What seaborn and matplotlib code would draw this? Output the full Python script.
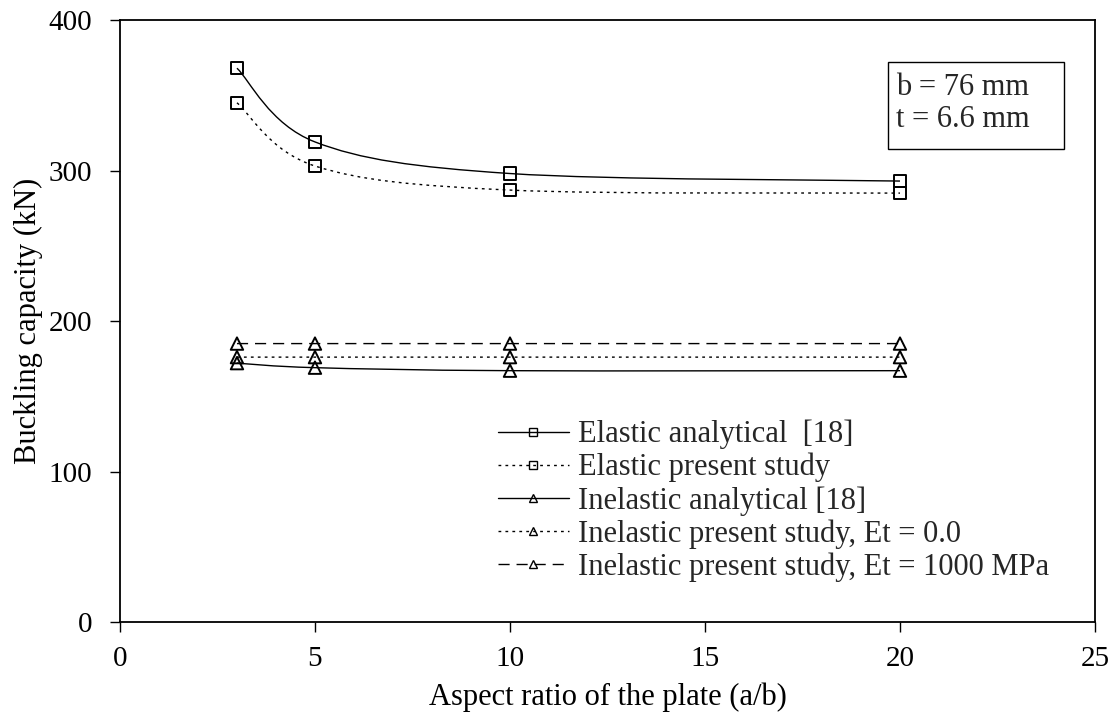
import numpy as np
import pandas as pd
import matplotlib
matplotlib.use("Agg")
import matplotlib.pyplot as plt
from matplotlib.path import Path
from matplotlib.patches import PathPatch, Rectangle
from matplotlib.lines import Line2D
import seaborn as sns

# ---- data ----
aspect_ratio = [3, 5, 10, 20]
elastic_analytical = [368, 319, 298, 293]
elastic_present = [345, 303, 287, 285]
inelastic_analytical = [172, 169, 167, 167]
inelastic_present_et0 = [176, 176, 176, 176]
inelastic_present_et1000 = [185, 185, 185, 185]

series_labels = [
    "Elastic analytical  [18]",
    "Elastic present study",
    "Inelastic analytical [18]",
    "Inelastic present study, Et = 0.0",
    "Inelastic present study, Et = 1000 MPa",
]
x_ticks = [0, 5, 10, 15, 20, 25]
y_ticks = [0, 100, 200, 300, 400]

sns.set_theme(style="white")
plt.rcParams["font.family"] = ["Liberation Serif", "DejaVu Serif"]

fig = plt.figure(figsize=(11.17, 7.28), dpi=100)
ax = fig.add_axes([0.1074, 0.1456, 0.8729, 0.8269])

series = [elastic_analytical, elastic_present, inelastic_analytical,
          inelastic_present_et0, inelastic_present_et1000]
markers = ["s", "s", "^", "^", "^"]
styles = ["-", (0, (2, 3)), "-", (0, (2, 3)), (0, (8, 5))]


def smooth_path(xs, ys):
    pts = np.column_stack([xs, ys]).astype(float)
    n = len(pts)
    verts = [pts[0]]
    codes = [Path.MOVETO]
    for i in range(n - 1):
        p0 = pts[i - 1] if i > 0 else pts[i]
        p1 = pts[i]
        p2 = pts[i + 1]
        p3 = pts[i + 2] if i + 2 < n else pts[i + 1]
        c1 = p1 + (p2 - p0) / 6.0
        c2 = p2 - (p3 - p1) / 6.0
        verts += [c1, c2, p2]
        codes += [Path.CURVE4] * 3
    return Path(verts, codes)


handles = []
for vals, mk, ls, lab in zip(series, markers, styles, series_labels):
    patch = PathPatch(smooth_path(aspect_ratio, vals), facecolor="none",
                      edgecolor="black", linewidth=1.0, linestyle=ls,
                      transform=ax.transData, zorder=2)
    ax.add_patch(patch)
    df = pd.DataFrame({"x": aspect_ratio, "y": vals})
    sns.scatterplot(data=df, x="x", y="y", marker=mk, s=80,
                    facecolor="none", edgecolor="black", linewidth=1.4,
                    ax=ax, zorder=3, legend=False)
    handles.append(Line2D([], [], color="black", linewidth=1.0, linestyle=ls,
                          marker=mk, markersize=6, markerfacecolor="none",
                          markeredgecolor="black", markeredgewidth=1.0,
                          label=lab))

ax.set_xlim(0, 25)
ax.set_ylim(0, 400)
ax.set_xticks(x_ticks)
ax.set_yticks(y_ticks)
ax.tick_params(axis="both", labelsize=21, direction="out", length=7,
               width=1, color="black", labelcolor="black", bottom=True, left=True)
ax.tick_params(axis="x", pad=10)
ax.tick_params(axis="y", pad=13)
ax.set_xlabel("Aspect ratio of the plate (a/b)", fontsize=22, color="black", labelpad=8)
ax.set_ylabel("Buckling capacity (kN)", fontsize=22, color="black", labelpad=4)
for sp in ax.spines.values():
    sp.set_visible(True)
    sp.set_color("black")
    sp.set_linewidth(1.3)
ax.grid(False)

# parameter box
ax.add_patch(Rectangle((0.788, 0.786), 0.18, 0.144, transform=ax.transAxes,
                       facecolor="white", edgecolor="black", linewidth=1.0,
                       zorder=4))
ax.text(0.796, 0.912, "b = 76 mm\nt = 6.6 mm", transform=ax.transAxes,
        fontsize=22, va="top", ha="left", linespacing=1.15, zorder=5)

leg = ax.legend(handles=handles, loc="upper left",
                bbox_to_anchor=(0.388, 0.336), frameon=False, fontsize=22,
                handlelength=2.3, handletextpad=0.3, labelspacing=0.12,
                borderpad=0, borderaxespad=0)

fig.savefig("out.png", dpi=100, facecolor="white")
